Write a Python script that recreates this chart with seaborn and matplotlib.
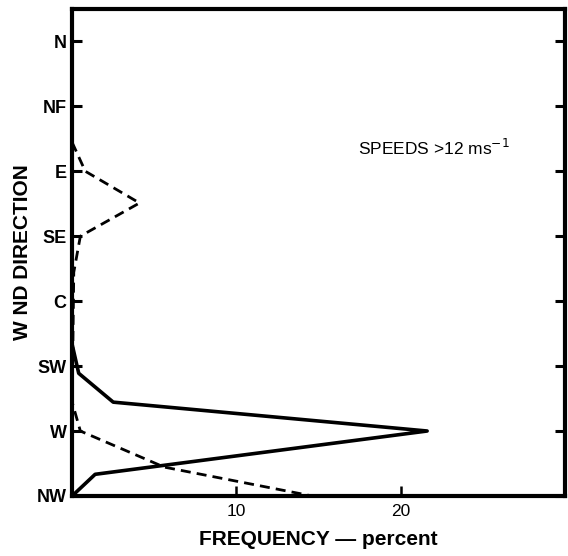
import matplotlib
matplotlib.use("Agg")
import matplotlib.pyplot as plt
import seaborn as sns
import pandas as pd

# Wind direction tick labels (as printed) and their bearings (degrees)
dir_labels = ["N", "NF", "E", "SE", "C", "SW", "W", "NW"]
dir_ticks = [0, 45, 90, 135, 180, 225, 270, 315]

# Solid curve: bearing (deg) and frequency (percent)
solid_dir = [0, 210, 230, 250, 270, 300, 315]
solid_freq = [0.0, 0.0, 0.4, 2.5, 21.6, 1.4, 0.0]

# Dashed curve: bearing (deg) and frequency (percent)
dashed_dir = [70, 90, 112, 135, 160, 250, 270, 295, 315]
dashed_freq = [0.0, 0.8, 4.1, 0.5, 0.1, 0.0, 0.5, 5.6, 14.6]

x_ticks = [10, 20]

sns.set_style("white")
plt.rcParams["font.family"] = ["Liberation Sans", "DejaVu Sans"]
plt.rcParams["text.color"] = "black"
plt.rcParams["axes.labelcolor"] = "black"

fig = plt.figure(figsize=(5.68, 5.56), dpi=100)
ax = fig.add_axes([0.127, 0.108, 0.868, 0.876])

solid = pd.DataFrame({"dir": solid_dir, "freq": solid_freq})
dashed = pd.DataFrame({"dir": dashed_dir, "freq": dashed_freq})

sns.lineplot(data=solid, x="freq", y="dir", sort=False, estimator=None,
             color="black", linewidth=2.6, ax=ax)
sns.lineplot(data=dashed, x="freq", y="dir", sort=False, estimator=None,
             color="black", linewidth=2.0, linestyle=(0, (3.6, 2.2)), ax=ax)

ax.set_xlim(0, 30)
ax.set_ylim(315, -22.5)

ax.set_yticks(dir_ticks)
ax.set_yticklabels(dir_labels, fontsize=13, fontweight="bold", color="black")
ax.set_xticks(x_ticks)
ax.set_xticklabels([str(t) for t in x_ticks], fontsize=12.5, color="black")

ax.tick_params(axis="y", direction="in", length=7, width=2.2, pad=4,
               left=True, right=True, colors="black")
ax.tick_params(axis="x", direction="in", length=7, width=1.8, pad=6,
               bottom=True, top=False, colors="black")

for side, sp in ax.spines.items():
    sp.set_visible(True)
    sp.set_color("black")
    sp.set_linewidth(3.0)
    sp.set_zorder(3)

ax.set_ylabel("W ND DIRECTION", fontsize=15, fontweight="bold", labelpad=3)
ax.set_xlabel("FREQUENCY \u2014 percent", fontsize=15, fontweight="bold", labelpad=8)

ax.text(17.4, 74, "SPEEDS >12 ms$^{-1}$", fontsize=12.5, ha="left", va="center")

fig.savefig("out.png", dpi=100)
